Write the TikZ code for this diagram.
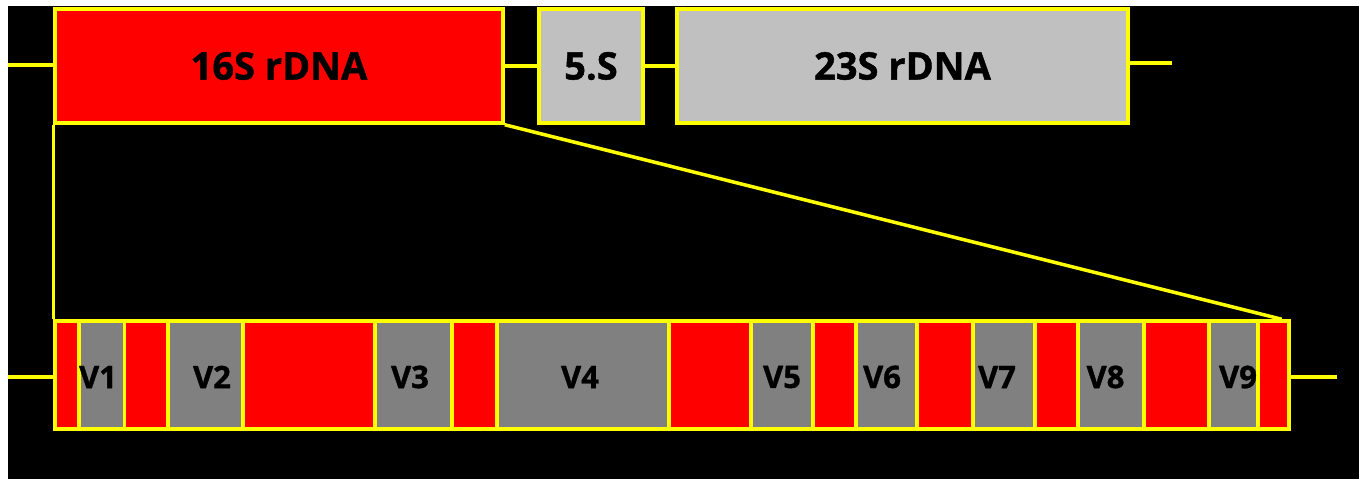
\documentclass[tikz,border=0pt]{standalone}
\usepackage{fontspec}
\setmainfont{Open Sans}[BoldFeatures={FakeBold=1.2}]
\definecolor{genegrey}{RGB}{192,192,192}
\definecolor{vargrey}{RGB}{128,128,128}
\definecolor{consred}{RGB}{255,0,0}
\definecolor{edge}{RGB}{255,255,0}
\begin{document}
\begin{tikzpicture}[x=1pt,y=-1pt,
  gene/.style={draw=edge, line width=3.5pt, inner sep=0pt, minimum height=114pt,
    font=\bfseries\fontsize{38}{40}\selectfont},
  region/.style={draw=edge, line width=3.5pt, inner sep=0pt, minimum height=108pt},
  vlabel/.style={inner sep=0pt, font=\bfseries\fontsize{31}{33}\selectfont},
  link/.style={draw=edge, line width=3.5pt}]
\path[use as bounding box] (0,0) rectangle (1359,479);
\fill[white] (0,0) rectangle (1359,479);
\fill[black] (8,6) rectangle (1359,479);

% operon: 16S, 5S and 23S genes
\node[gene, fill=consred, minimum width=448pt] (s16) at (279,66) {16S rDNA};
\node[gene, fill=genegrey, minimum width=104pt] (s5) at (591,66) {5.S};
\node[gene, fill=genegrey, minimum width=451pt] (s23) at (902.5,66) {23S rDNA};
\coordinate (topin) at (8,65);
\coordinate (topout) at (1172,63);
\draw[link] (topin) -- (topin -| s16.west);
\draw[link] (s16.east) -- (s5.west);
\draw[link] (s5.east) -- (s23.west);
\draw[link] (topout -| s23.east) -- (topout);

% 16S gene expanded: conserved and variable regions
\foreach \a/\b/\c [count=\i] in {55/79/consred, 79/124.5/vargrey, 124.5/168/consred,
    168/243/vargrey, 243/375/consred, 375/452/vargrey, 452/497/consred,
    497/669/vargrey, 669/751/consred, 751/813/vargrey, 813/856/consred,
    856/917/vargrey, 917/973/consred, 973/1035/vargrey, 1035/1078/consred,
    1078/1144/vargrey, 1144/1209/consred, 1209/1258/vargrey, 1258/1289/consred} {
  \pgfmathsetmacro\w{\b-\a}
  \pgfmathsetmacro\m{(\a+\b)/2}
  \node[region, fill=\c, minimum width=\w pt] (seg\i) at (\m,375) {};
}
\node[region, minimum width=1234pt] (bar) at (672,375) {};

\node[vlabel] (v1) at (98,377) {V1};
\node[vlabel] (v2) at (212,377) {V2};
\node[vlabel] (v3) at (410,377) {V3};
\node[vlabel] (v4) at (580,377) {V4};
\node[vlabel] (v5) at (782,377) {V5};
\node[vlabel] (v6) at (882,377) {V6};
\node[vlabel] (v7) at (997,377) {V7};
\node[vlabel] (v8) at (1105.5,377) {V8};
\node[vlabel] (v9) at (1238,377) {V9};

\coordinate (botin) at (8,377);
\coordinate (botout) at (1337,377);
\draw[link] (botin) -- (botin -| bar.west);
\draw[link] (botout -| bar.east) -- (botout);

% zoom lines from the 16S gene to its expanded view
\draw[link] (s16.south west) -- (bar.north west);
\draw[link] (s16.south east) -- ([xshift=-9pt]bar.north east);
\end{tikzpicture}
\end{document}
